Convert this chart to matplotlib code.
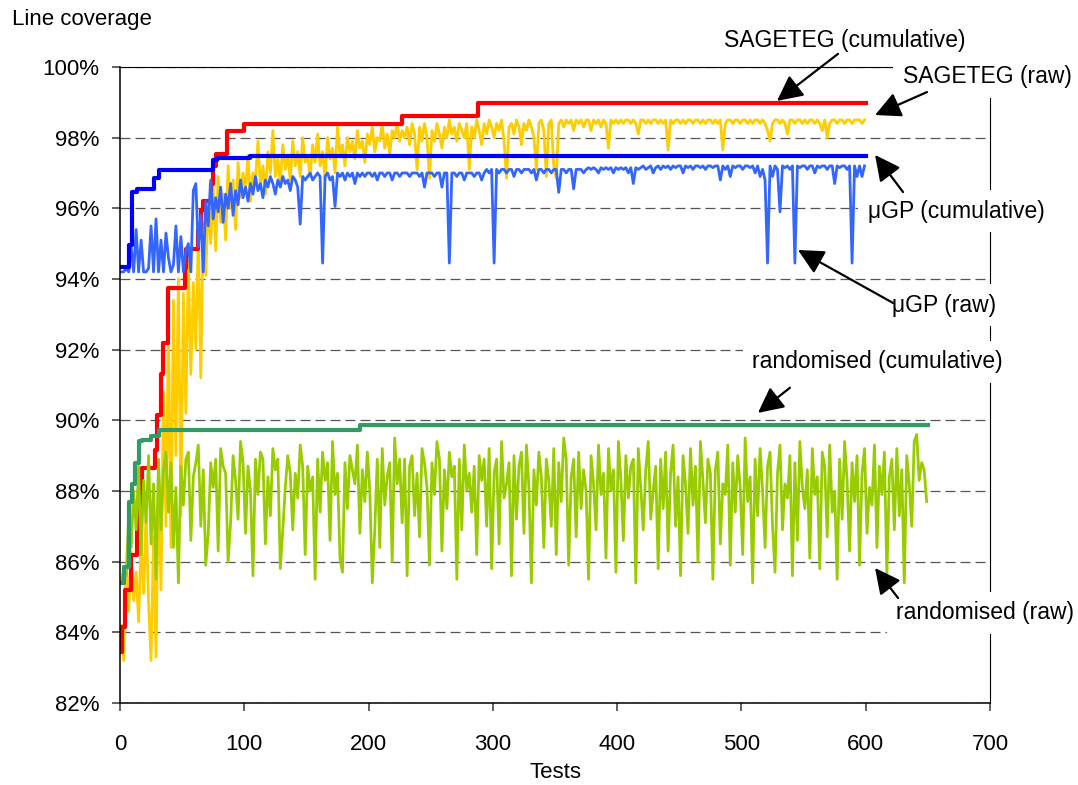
import numpy as np
import matplotlib
matplotlib.use("Agg")
import matplotlib.pyplot as plt
from matplotlib.ticker import FuncFormatter, MultipleLocator

plt.rcParams['font.family'] = ['Liberation Sans', 'DejaVu Sans']

# ── data (line coverage in %) ─────────────────────────────────────────────
# cumulative coverage: test number where the value changes, and the new value
sage_cum_x = [1, 2, 4, 9, 14, 18, 28, 30, 33, 35, 39, 52, 53, 63, 65, 67, 73, 75, 77, 86, 100, 227, 288, 600]
sage_cum_y = [83.45, 84.15, 85.2, 86.2, 87.6, 88.65, 89.15, 90.15, 91.3, 92.2, 93.75, 94.3, 94.85, 95.4,
              95.95, 96.2, 96.7, 97.2, 97.55, 98.2, 98.39, 98.6, 98.98, 98.98]

mugp_cum_x = [1, 7, 10, 14, 27, 31, 75, 78, 105, 600]
mugp_cum_y = [94.35, 94.95, 96.45, 96.55, 96.85, 97.09, 97.37, 97.42, 97.47, 97.47]

rand_cum_x = [1, 3, 7, 10, 12, 15, 18, 25, 31, 193, 650]
rand_cum_y = [85.4, 85.85, 87.7, 88.2, 88.8, 89.4, 89.45, 89.55, 89.72, 89.87, 89.87]

# raw coverage of single tests, every second test (1, 3, 5, ...)
sage_raw = [
    84.2, 83.2, 85.9, 84.6, 86.3, 84.9, 85.7, 84.3, 86.6, 85.1, 87.4, 84.8, 83.2, 86.7, 83.3,
    88.5, 85.2, 90.8, 87.0, 92.6, 86.4, 93.4, 89.0, 94.0, 87.3, 93.6, 90.2, 94.5, 91.3, 93.9,
    92.0, 95.2, 91.2, 95.6, 94.1, 96.2, 95.0, 96.6, 94.8, 96.9, 95.6, 96.4, 95.1, 97.2, 96.0, 96.8, 95.4, 97.3, 96.3, 97.0,
    96.5, 97.5, 96.2, 97.0, 96.8, 97.9, 96.6, 97.2, 96.4, 97.6, 97.0, 98.2, 96.9, 97.4, 96.7, 97.8, 97.1, 97.5, 96.8, 97.9, 97.2, 97.6, 96.9, 98.0, 97.3,
    97.5, 96.9, 97.8, 97.3, 98.1, 97.2, 97.6, 96.8, 98.0, 97.4, 97.7, 97.0, 98.3, 97.5, 97.8, 97.2, 98.0, 97.6, 97.9, 97.4, 98.2, 97.7, 97.9, 97.3, 98.1,
    97.8, 98.3, 97.6, 98.0, 97.9, 98.4, 97.7, 98.1, 97.5, 98.2, 98.0, 98.4, 97.9, 98.2, 98.0, 98.3, 97.8, 98.4, 98.1, 97.1, 98.3, 97.9, 98.4, 98.0, 96.85,
    98.2, 97.9, 98.4, 98.1, 97.7, 98.3, 98.0, 98.5, 98.1, 98.3, 97.9, 98.4, 98.2, 98.0, 98.4, 97.1, 98.3, 98.0, 98.5, 98.2, 97.8, 98.4, 98.1, 98.5, 98.3,
    98.0, 98.4, 98.2, 98.5, 97.9, 96.85, 98.3, 98.4, 98.1, 98.5, 98.3, 97.8, 98.4, 98.2, 98.5, 98.3, 98.0, 97.1, 98.4, 98.5, 98.2, 96.9, 98.4, 98.5, 97.2,
    96.85, 98.4, 98.5, 98.3, 98.5, 98.4, 98.5, 98.2, 98.5, 98.4, 98.5, 98.3, 98.5, 98.5, 98.2, 98.5, 98.4, 98.5, 98.3, 98.5, 98.4, 97.7, 98.5, 98.4, 98.5,
    98.4, 98.5, 98.4, 98.5, 98.5, 98.4, 98.5, 98.4, 98.1, 98.5, 98.5, 98.4, 98.5, 98.4, 98.5, 98.5, 98.4, 98.5, 98.4, 98.5, 97.65, 98.5, 98.4, 98.5, 98.5,
    98.4, 98.5, 98.4, 98.5, 98.5, 98.4, 98.5, 98.5, 98.4, 98.5, 98.4, 98.5, 98.5, 98.4, 98.5, 98.4, 98.5, 97.65, 98.4, 98.5, 98.5, 98.4, 98.5, 98.5, 98.4,
    98.5, 98.5, 98.4, 98.5, 98.4, 98.5, 98.5, 98.4, 98.5, 98.4, 98.2, 97.9, 98.4, 98.5, 98.5, 98.4, 98.5, 98.4, 98.1, 98.5, 98.5, 98.4, 98.5, 98.5, 98.4,
    98.5, 98.4, 98.5, 98.5, 98.4, 98.5, 98.4, 98.2, 98.5, 98.0, 98.4, 98.5, 98.5, 98.4, 98.5, 98.5, 98.4, 98.5, 98.5, 98.4, 98.5, 98.5, 98.5, 98.4, 98.5,
]

mugp_raw = [
    94.2, 94.2, 94.3, 94.2, 94.9, 94.2, 95.4, 94.2, 95.1, 94.2, 94.2, 94.3, 95.5, 94.2, 95.7,
    94.2, 95.1, 94.2, 95.3, 94.6, 94.2, 94.4, 95.5, 94.2, 95.2, 94.2, 94.8, 95.0, 94.2, 96.5,
    96.7, 94.9, 95.8, 94.2, 96.2, 95.5, 96.8, 95.7, 96.3, 95.9, 96.6, 95.6, 96.4, 96.0, 96.7, 95.8, 96.5, 96.1, 96.8, 96.3,
    96.6, 96.2, 96.7, 96.4, 96.9, 96.5, 96.7, 96.3, 96.8, 96.6, 96.9, 96.7, 96.4, 96.8, 96.6, 96.9, 96.7, 96.8, 96.5, 96.9, 96.8, 96.6, 95.55, 96.9, 96.8,
    96.9, 97.0, 96.8, 96.9, 97.0, 96.9, 94.45, 96.9, 97.0, 96.8, 96.9, 96.05, 97.0, 96.9, 97.0, 96.8, 97.0, 96.9, 97.0, 96.7, 97.0, 96.9, 97.0, 96.9, 97.0,
    97.0, 96.9, 97.0, 96.8, 97.0, 97.0, 96.9, 97.0, 97.0, 96.8, 97.0, 97.0, 96.9, 97.0, 97.0, 97.0, 96.9, 97.0, 97.0, 97.0, 96.9, 97.0, 96.6, 97.0, 97.0,
    97.0, 96.9, 97.0, 97.0, 96.6, 97.0, 97.0, 94.45, 97.0, 97.0, 96.9, 97.0, 97.0, 96.8, 97.0, 97.0, 97.0, 96.9, 97.0, 97.0, 96.8, 97.0, 97.1, 97.0, 97.1,
    94.45, 97.1, 97.0, 97.1, 97.1, 97.0, 97.1, 97.1, 96.9, 97.1, 97.1, 97.0, 97.1, 97.1, 97.1, 97.0, 97.1, 96.8, 97.1, 97.1, 97.0, 97.1, 97.1, 97.0, 97.1,
    97.1, 96.45, 97.1, 97.1, 97.0, 97.1, 97.1, 96.55, 97.1, 97.1, 97.1, 97.0, 97.1, 97.15, 97.1, 97.15, 97.1, 97.0, 97.15, 97.1, 97.15, 97.1, 97.15, 97.0, 97.15,
    97.1, 97.15, 97.1, 97.15, 97.0, 97.15, 96.7, 97.15, 97.1, 97.15, 97.2, 97.1, 97.15, 97.2, 97.0, 97.15, 97.2, 97.1, 97.2, 97.15, 97.2, 97.1, 97.2, 97.15, 97.2,
    97.2, 97.0, 97.2, 97.15, 97.2, 97.1, 97.2, 97.2, 97.15, 97.2, 97.1, 97.2, 97.2, 97.15, 97.2, 97.2, 96.8, 97.2, 97.1, 97.2, 96.9, 97.2, 97.15, 97.2, 97.2,
    97.1, 97.2, 97.2, 97.15, 97.2, 97.0, 97.2, 96.9, 97.1, 96.8, 94.45, 97.2, 96.9, 97.2, 97.1, 95.9, 97.2, 97.15, 97.2, 97.1, 97.2, 94.45, 97.2, 97.15, 97.2,
    97.2, 97.1, 97.2, 97.2, 97.0, 97.2, 97.15, 97.2, 97.2, 97.1, 97.2, 97.2, 96.7, 97.2, 97.15, 97.2, 97.2, 97.1, 97.2, 94.45, 97.2, 96.9, 97.2, 96.9, 97.2,
]

rand_raw = [
    85.4, 85.8, 85.6, 87.3, 86.4, 88.0, 86.9, 88.7, 86.2, 88.3, 87.1, 89.0, 86.5, 88.2, 85.5, 88.9, 86.9, 88.6, 89.1, 87.4, 88.8, 86.4, 88.1, 85.4, 88.7,
    87.6, 88.9, 89.1, 86.6, 88.4, 88.8, 89.3, 87.0, 88.6, 85.9, 86.8, 88.8, 88.1, 88.9, 86.3, 89.2, 88.7, 88.5, 86.0, 87.1, 89.0, 88.3, 87.2, 89.4, 88.8,
    86.8, 88.7, 88.0, 85.6, 88.9, 87.9, 89.1, 88.9, 86.5, 88.4, 87.3, 89.2, 88.6, 88.9, 85.8, 86.9, 88.1, 89.0, 88.5, 86.9, 88.5, 87.8, 89.3, 88.7, 86.2,
    88.7, 88.0, 88.4, 85.5, 88.9, 87.4, 89.1, 88.3, 88.8, 86.6, 89.4, 87.9, 88.5, 86.1, 85.7, 88.8, 87.5, 89.0, 88.6, 88.2, 89.3, 86.8, 88.6, 87.7, 89.1,
    88.0, 85.4, 86.9, 88.9, 86.4, 89.2, 87.6, 88.4, 88.8, 86.0, 89.5, 88.2, 88.9, 87.1, 88.9, 85.6, 88.7, 89.0, 87.3, 88.5, 86.7, 89.2, 88.8, 88.1, 85.9,
    88.8, 87.9, 89.4, 88.9, 86.3, 88.6, 87.5, 89.1, 88.4, 88.7, 85.5, 88.9, 86.9, 89.3, 88.0, 88.5, 87.4, 88.7, 86.2, 89.0, 88.3, 88.9, 87.0, 89.2, 85.8,
    88.5, 88.9, 86.5, 89.4, 87.8, 88.2, 88.8, 85.6, 89.0, 87.2, 88.7, 89.1, 86.8, 89.3, 88.1, 85.4, 88.6, 87.6, 89.1, 88.4, 86.4, 88.9, 88.3, 87.0, 89.2,
    86.2, 88.8, 87.7, 89.5, 88.9, 85.9, 88.4, 88.9, 86.7, 89.1, 87.5, 88.6, 88.0, 85.5, 89.0, 88.2, 86.9, 89.3, 87.9, 88.5, 86.1, 89.2, 88.0, 88.6, 85.7,
    89.4, 88.3, 86.6, 89.0, 87.8, 88.7, 88.9, 85.4, 89.2, 88.1, 86.9, 88.6, 89.4, 87.2, 88.0, 88.7, 85.8, 88.9, 87.5, 89.1, 86.3, 88.5, 89.3, 87.0, 88.4,
    85.6, 89.0, 88.2, 86.8, 89.2, 87.6, 88.7, 86.0, 89.4, 88.3, 87.1, 88.9, 88.5, 85.5, 88.6, 89.1, 86.5, 88.2, 87.9, 89.3, 85.9, 88.8, 87.4, 89.0, 88.1,
    86.2, 89.5, 87.7, 88.4, 85.4, 88.9, 87.3, 89.2, 88.0, 86.4, 88.7, 89.1, 87.0, 85.7, 88.5, 89.3, 86.9, 88.2, 87.8, 89.0, 85.6, 88.8, 86.6, 89.4, 88.1,
    87.5, 88.6, 86.1, 89.2, 87.9, 88.4, 85.8, 89.1, 88.7, 86.7, 89.3, 87.4, 88.0, 85.5, 88.9, 87.2, 89.4, 88.3, 86.3, 88.8, 87.7, 89.0, 85.9, 88.5, 89.2,
    86.8, 88.1, 87.6, 89.3, 86.4, 88.7, 87.9, 89.1, 85.6, 88.4, 88.9, 86.9, 89.2, 87.3, 88.6, 85.4, 89.0, 88.2, 87.0, 89.4, 89.6, 88.3, 88.8, 88.6, 87.7,
]

sage_x = np.arange(1, 2 * len(sage_raw), 2)
mugp_x = np.arange(1, 2 * len(mugp_raw), 2)
rand_x = np.arange(1, 2 * len(rand_raw), 2)

# ── figure ─────────────────────────────────────────────────────────────────
fig = plt.figure(figsize=(10.78, 7.85), dpi=100)
ax = fig.add_axes([0.1113, 0.1045, 0.8071, 0.8102])

raw_lw, cum_lw = 2.0, 3.0
ax.plot(sage_x, sage_raw, color="#FFCC00", lw=raw_lw, zorder=2.0)
ax.plot(sage_cum_x, sage_cum_y, color="#FF0000", lw=cum_lw, drawstyle="steps-post", zorder=2.1)
ax.plot(mugp_x, mugp_raw, color="#3366FF", lw=raw_lw, zorder=2.2)
ax.plot(mugp_cum_x, mugp_cum_y, color="#0000FF", lw=cum_lw, drawstyle="steps-post", zorder=2.3)
ax.plot(rand_x, rand_raw, color="#99CC00", lw=raw_lw, zorder=2.4)
ax.plot(rand_cum_x, rand_cum_y, color="#339966", lw=cum_lw, drawstyle="steps-post", zorder=2.45)

ax.set_xlim(0, 700)
ax.set_ylim(82, 100)
ax.xaxis.set_major_locator(MultipleLocator(100))
ax.yaxis.set_major_locator(MultipleLocator(2))
ax.yaxis.set_major_formatter(FuncFormatter(lambda v, p: f"{v:.0f}%"))
ax.tick_params(axis="both", direction="out", length=6, width=1.3, color="#555555", labelsize=16)
ax.tick_params(axis="y", pad=9)
ax.tick_params(axis="x", pad=16)

ax.set_axisbelow(True)
ax.yaxis.grid(True, linestyle=(0, (8, 4)), color="#555555", lw=0.9)

for side in ("left", "bottom"):
    ax.spines[side].set_linewidth(1.1)
    ax.spines[side].set_color("black")
for side in ("top", "right"):
    ax.spines[side].set_linewidth(0.8)
    ax.spines[side].set_color("black")

fig.text(12 / 1078, 1 - 20 / 785, "Line coverage", ha="left", va="center", fontsize=16)
fig.text(555 / 1078, 1 - 773 / 785, "Tests", ha="center", va="center", fontsize=16)

# ── series labels with arrows (text pos, arrow tail, arrow tip) ────────────
labels = [
    ("SAGETEG (cumulative)",    (583.0, 100.76), (577.7, 100.37), (528.6, 99.04)),
    ("SAGETEG (raw)",           (697.6, 99.72),  (649.3, 99.29),  (607.5, 98.64)),
    ("\u03bcGP (cumulative)",   (672.6, 95.92),  (630.0, 96.46),  (607.5, 97.51)),
    ("\u03bcGP (raw)",          (663.4, 93.26),  (622.0, 93.32),  (545.5, 94.82)),
    ("randomised (cumulative)", (609.5, 91.65),  (539.0, 90.92),  (513.3, 90.21)),
    ("randomised (raw)",        (696.0, 84.55),  (626.0, 84.97),  (607.5, 85.82)),
]
for txt, pos, tail, tip in labels:
    ax.text(pos[0], pos[1], txt, ha="center", va="center", fontsize=16.5, zorder=5,
            bbox=dict(boxstyle="square,pad=0.4", fc="white", ec="none"))
    ax.annotate("", xy=tip, xytext=tail, annotation_clip=False, zorder=6,
                arrowprops=dict(arrowstyle="-|>,head_length=0.6,head_width=0.3",
                                color="black", lw=1.6, mutation_scale=26,
                                shrinkA=0, shrinkB=0))

fig.savefig("out.png", dpi=100)
